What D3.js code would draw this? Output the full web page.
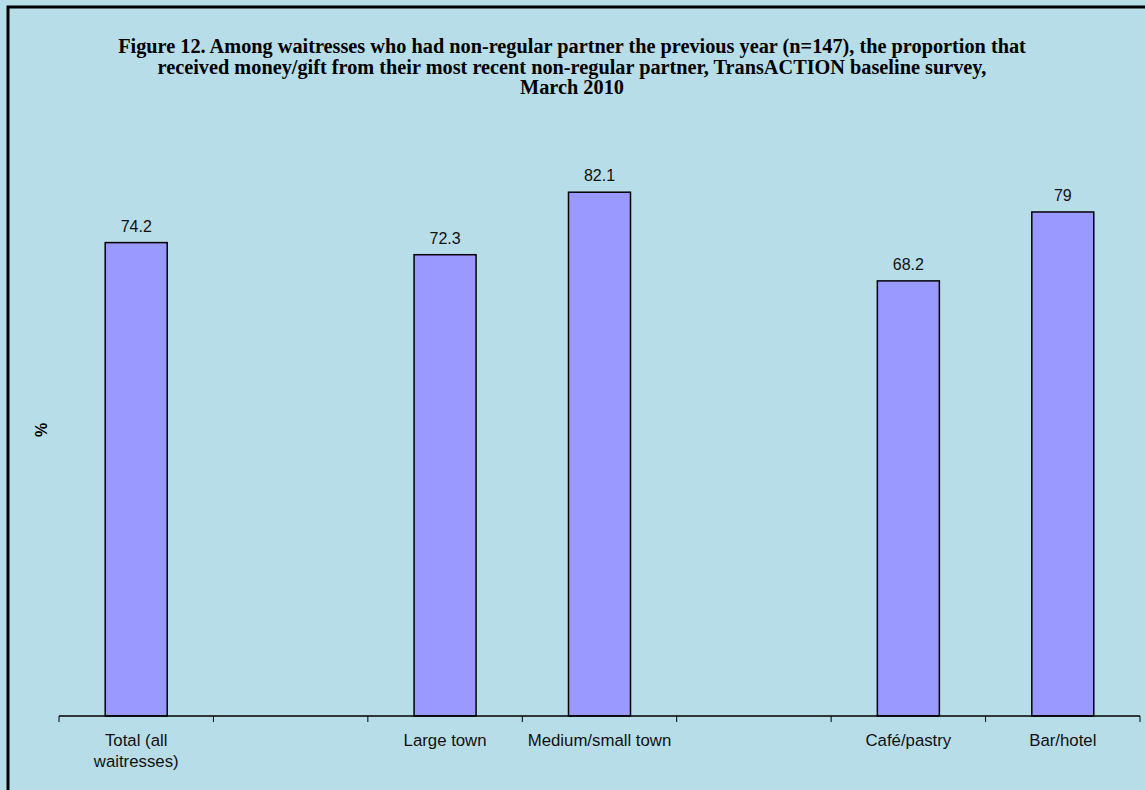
<!DOCTYPE html>
<html>
<head>
<meta charset="utf-8">
<script src="https://cdn.jsdelivr.net/npm/d3@7"></script>
<style>
  html, body { margin: 0; padding: 0; background: #b7dde8; }
  svg { display: block; }
</style>
</head>
<body>
<script>
// Categories along the x axis; empty slots act as group separators
const categories = ["Total (all waitresses)", "gap1", "Large town", "Medium/small town", "gap2", "Café/pastry", "Bar/hotel"];
const tickLabels = [["Total (all", "waitresses)"], [], ["Large town"], ["Medium/small town"], [], ["Café/pastry"], ["Bar/hotel"]];
const values = [74.2, null, 72.3, 82.1, null, 68.2, 79];
const valueLabels = ["74.2", "", "72.3", "82.1", "", "68.2", "79"];
const titleLines = [
  "Figure 12. Among waitresses who had non-regular partner the previous year (n=147), the proportion that",
  "received money/gift from their most recent non-regular partner, TransACTION baseline survey,",
  "March 2010"
];

const W = 1145, H = 790;
const svg = d3.select("body").append("svg").attr("width", W).attr("height", H);

svg.append("rect").attr("width", W).attr("height", H).attr("fill", "#b7dde8");
// chart frame (top and left edges visible)
svg.append("rect").attr("x", 8).attr("y", 7).attr("width", W + 20).attr("height", H + 20)
  .attr("fill", "none").attr("stroke", "#000").attr("stroke-width", 3);

const plot = { left: 59, right: 1140, top: 78, bottom: 716 };

const x = d3.scaleBand().domain(categories).range([plot.left, plot.right]).paddingInner(0).paddingOuter(0);
const y = d3.scaleLinear().domain([0, 100]).range([plot.bottom, plot.top]);

// title
const title = svg.append("text")
  .attr("x", 572).attr("y", 53)
  .attr("text-anchor", "middle")
  .attr("font-family", "'Liberation Serif', 'Times New Roman', serif")
  .attr("font-weight", "bold")
  .attr("font-size", 20.3)
  .attr("fill", "#000");
titleLines.forEach((t, i) => {
  title.append("tspan").attr("x", 572).attr("dy", i === 0 ? 0 : 20.5).text(t);
});

// bars
const bw = 62;
const data = categories.map((c, i) => ({ c, v: values[i], lab: valueLabels[i] })).filter(d => d.v != null);

svg.selectAll("rect.bar").data(data).enter().append("rect")
  .attr("class", "bar")
  .attr("x", d => x(d.c) + x.bandwidth() / 2 - bw / 2)
  .attr("y", d => y(d.v))
  .attr("width", bw)
  .attr("height", d => y(0) - y(d.v))
  .attr("fill", "#9999ff")
  .attr("stroke", "#000")
  .attr("stroke-width", 1.5);

svg.selectAll("text.val").data(data).enter().append("text")
  .attr("class", "val")
  .attr("x", d => x(d.c) + x.bandwidth() / 2)
  .attr("y", d => y(d.v) - 11)
  .attr("text-anchor", "middle")
  .attr("font-family", "'Liberation Sans', Arial, sans-serif")
  .attr("font-size", 16)
  .attr("fill", "#111")
  .text(d => d.lab);

// x axis with ticks at band boundaries
const axisG = svg.append("g").attr("transform", `translate(0,${plot.bottom})`);
axisG.append("line").attr("x1", plot.left).attr("x2", plot.right).attr("y1", 0).attr("y2", 0)
  .attr("stroke", "#000").attr("stroke-width", 1.5);
const bounds = categories.map(c => x(c)).concat([plot.right]);
axisG.selectAll("line.tick").data(bounds).enter().append("line")
  .attr("class", "tick")
  .attr("x1", d => d).attr("x2", d => d).attr("y1", 0).attr("y2", 6)
  .attr("stroke", "#000").attr("stroke-width", 1);

// category labels
categories.forEach((c, i) => {
  const lines = tickLabels[i];
  const t = axisG.append("text")
    .attr("x", x(c) + x.bandwidth() / 2)
    .attr("y", 30)
    .attr("text-anchor", "middle")
    .attr("font-family", "'Liberation Sans', Arial, sans-serif")
    .attr("font-size", 16.8)
    .attr("fill", "#111");
  lines.forEach((l, j) => {
    t.append("tspan").attr("x", x(c) + x.bandwidth() / 2).attr("dy", j === 0 ? 0 : 21).text(l);
  });
});

// y axis title
svg.append("text")
  .attr("transform", "translate(47,430) rotate(-90)")
  .attr("text-anchor", "middle")
  .attr("font-family", "'Liberation Sans', Arial, sans-serif")
  .attr("font-weight", "bold")
  .attr("font-size", 16)
  .attr("fill", "#000")
  .text("%");
</script>
</body>
</html>
